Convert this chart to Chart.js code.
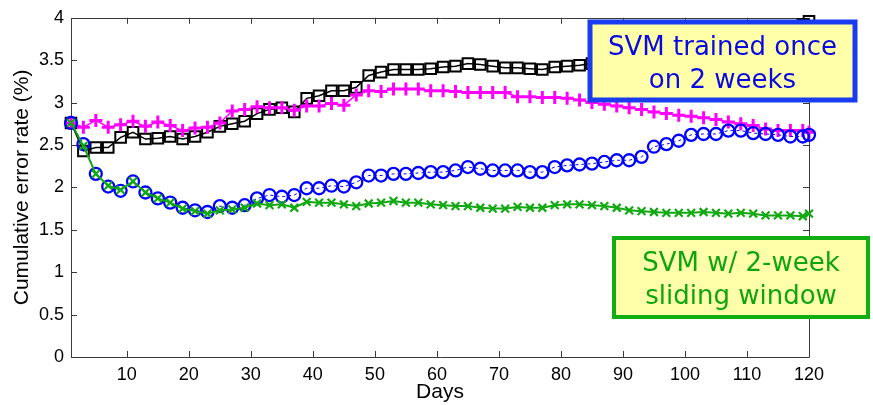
<!DOCTYPE html>
<html>
<head>
<meta charset="utf-8">
<script src="https://cdn.jsdelivr.net/npm/chart.js@4.4.0/dist/chart.umd.min.js"></script>
<style>
html, body { margin: 0; padding: 0; background: #fff; }
</style>
</head>
<body>
<canvas id="myChart" width="873" height="405"></canvas>
<script>
// days with a marker (every other day + last day)
const days = [1, 3, 5, 7, 9, 11, 13, 15, 17, 19, 21, 23, 25, 27, 29, 31, 33, 35, 37, 39,
    41, 43, 45, 47, 49, 51, 53, 55, 57, 59, 61, 63, 65, 67, 69, 71, 73, 75, 77, 79,
    81, 83, 85, 87, 89, 91, 93, 95, 97, 99, 101, 103, 105, 107, 109, 111, 113, 115, 117, 119, 120];

const blackSq = [2.76, 2.43, 2.47, 2.47, 2.59, 2.65, 2.57, 2.58, 2.60, 2.57, 2.60, 2.65, 2.72, 2.75, 2.78, 2.87, 2.92, 2.94, 2.89, 3.05,
    3.08, 3.14, 3.14, 3.18, 3.32, 3.36, 3.39, 3.39, 3.39, 3.40, 3.42, 3.43, 3.46, 3.45, 3.43, 3.41, 3.41, 3.40, 3.39, 3.42,
    3.43, 3.44, 3.46, 3.47, 3.49, 3.51, 3.53, 3.55, 3.57, 3.59, 3.61, 3.63, 3.65, 3.67, 3.69, 3.72, 3.75, 3.79, 3.84, 3.92, 3.96];

const magentaPlus = [2.76, 2.71, 2.79, 2.71, 2.74, 2.78, 2.72, 2.77, 2.73, 2.67, 2.70, 2.71, 2.76, 2.90, 2.92, 2.95, 2.94, 2.94, 2.91, 2.96,
    2.96, 2.99, 2.97, 3.09, 3.14, 3.13, 3.16, 3.16, 3.16, 3.14, 3.14, 3.13, 3.12, 3.12, 3.12, 3.12, 3.07, 3.07, 3.06, 3.06,
    3.05, 3.03, 3.00, 2.98, 2.96, 2.94, 2.92, 2.89, 2.87, 2.85, 2.84, 2.82, 2.80, 2.77, 2.75, 2.73, 2.69, 2.67, 2.67, 2.67, 2.65];

const blueCirc = [2.76, 2.51, 2.16, 2.01, 1.96, 2.07, 1.94, 1.87, 1.82, 1.76, 1.73, 1.71, 1.78, 1.76, 1.79, 1.87, 1.91, 1.89, 1.91, 1.99,
    1.99, 2.02, 2.01, 2.06, 2.14, 2.14, 2.16, 2.16, 2.17, 2.18, 2.18, 2.20, 2.24, 2.22, 2.20, 2.20, 2.20, 2.18, 2.18, 2.24,
    2.26, 2.27, 2.28, 2.30, 2.32, 2.32, 2.36, 2.48, 2.51, 2.55, 2.62, 2.63, 2.63, 2.67, 2.67, 2.64, 2.63, 2.62, 2.60, 2.60, 2.62];

const greenX = [2.76, 2.49, 2.16, 2.02, 1.97, 2.07, 1.94, 1.87, 1.82, 1.75, 1.72, 1.69, 1.73, 1.74, 1.76, 1.81, 1.79, 1.80, 1.76, 1.83,
    1.82, 1.82, 1.80, 1.78, 1.81, 1.82, 1.84, 1.82, 1.82, 1.80, 1.79, 1.78, 1.78, 1.76, 1.75, 1.75, 1.77, 1.76, 1.76, 1.79,
    1.80, 1.80, 1.79, 1.78, 1.76, 1.73, 1.72, 1.71, 1.70, 1.70, 1.70, 1.71, 1.70, 1.69, 1.70, 1.69, 1.67, 1.67, 1.67, 1.66, 1.69];

const xTicks = [10, 20, 30, 40, 50, 60, 70, 80, 90, 100, 110, 120];
const yTicks = [0, 0.5, 1, 1.5, 2, 2.5, 3, 3.5, 4];

const toPts = arr => days.map((d, i) => ({ x: d, y: arr[i] }));

Chart.defaults.font.family = '"Liberation Sans", Arial, sans-serif';
Chart.defaults.color = '#000';

// matlab style box + inward ticks
const frame = {
    id: 'frame',
    beforeDatasetsDraw(chart) {
        const { ctx, chartArea: a, scales: { x, y } } = chart;
        ctx.save();
        ctx.strokeStyle = '#3a3a3a';
        ctx.lineWidth = 1;
        ctx.beginPath();
        ctx.rect(Math.round(a.left) + 0.5, Math.round(a.top) + 0.5, Math.round(a.right - a.left), Math.round(a.bottom - a.top));
        xTicks.forEach(v => {
            const px = Math.round(x.getPixelForValue(v)) + 0.5;
            ctx.moveTo(px, a.bottom); ctx.lineTo(px, a.bottom - 6);
            ctx.moveTo(px, a.top); ctx.lineTo(px, a.top + 6);
        });
        yTicks.forEach(v => {
            const py = Math.round(y.getPixelForValue(v)) + 0.5;
            ctx.moveTo(a.left, py); ctx.lineTo(a.left + 6, py);
            ctx.moveTo(a.right, py); ctx.lineTo(a.right - 6, py);
        });
        ctx.stroke();
        ctx.restore();
    },
    afterDraw(chart) {
        const ctx = chart.ctx;
        const boxes = [
            { x: 590, y: 22, w: 265, h: 78, line: '#1a3cf0', lw: 5, txt: '#0a0ae0', lines: ['SVM trained once', 'on 2 weeks'] },
            { x: 614, y: 238, w: 254, h: 79, line: '#12ad12', lw: 4, txt: '#10a510', lines: ['SVM w/ 2-week', 'sliding window'] }
        ];
        ctx.save();
        boxes.forEach(b => {
            ctx.fillStyle = '#ffffaa';
            ctx.fillRect(b.x, b.y, b.w, b.h);
            ctx.strokeStyle = b.line;
            ctx.lineWidth = b.lw;
            ctx.strokeRect(b.x, b.y, b.w, b.h);
            ctx.fillStyle = b.txt;
            ctx.font = '26px "DejaVu Sans"';
            ctx.textAlign = 'center';
            ctx.textBaseline = 'alphabetic';
            const cx = b.x + b.w / 2;
            ctx.fillText(b.lines[0], cx, b.y + 33);
            ctx.fillText(b.lines[1], cx, b.y + 66);
        });
        ctx.restore();
    }
};

const ctx = document.getElementById('myChart').getContext('2d');
const chart = new Chart(ctx, {
    type: 'line',
    data: {
        datasets: [
            {
                label: 'sliding window',
                data: toPts(greenX),
                borderColor: '#12a812',
                borderWidth: 2,
                pointStyle: 'crossRot',
                pointRadius: 5.5,
                pointBorderWidth: 2.2,
                pointBorderColor: '#12a812',
                pointBackgroundColor: 'transparent',
                clip: false,
                order: 1
            },
            {
                label: 'blue',
                data: toPts(blueCirc),
                borderColor: '#0000ff',
                borderWidth: 1,
                borderDash: [3, 3],
                pointStyle: 'circle',
                pointRadius: 6,
                pointBorderWidth: 2.3,
                pointBorderColor: '#0000ff',
                pointBackgroundColor: 'transparent',
                clip: false,
                order: 2
            },
            {
                label: 'magenta',
                data: toPts(magentaPlus),
                borderColor: '#ff00ff',
                borderWidth: 1.5,
                pointStyle: 'cross',
                pointRadius: 6.5,
                pointBorderWidth: 3,
                pointBorderColor: '#ff00ff',
                pointBackgroundColor: 'transparent',
                clip: false,
                order: 3
            },
            {
                label: 'trained once',
                data: toPts(blackSq),
                borderColor: '#000',
                borderWidth: 1.5,
                pointStyle: 'rect',
                pointRadius: 7.5,
                pointBorderWidth: 2,
                pointBorderColor: '#000',
                pointBackgroundColor: 'transparent',
                clip: false,
                order: 4
            }
        ]
    },
    options: {
        responsive: false,
        animation: false,
        events: [],
        layout: { padding: { top: 17, right: 64, left: 0, bottom: 0 } },
        plugins: {
            legend: { display: false },
            tooltip: { enabled: false }
        },
        elements: { line: { tension: 0 } },
        scales: {
            x: {
                type: 'linear',
                min: 1,
                max: 120,
                afterBuildTicks: s => { s.ticks = xTicks.map(v => ({ value: v })); },
                afterFit: s => { s.height = 48; },
                grid: { display: false, drawTicks: false },
                border: { display: false },
                ticks: { font: { size: 18 }, padding: 7, maxRotation: 0, autoSkip: false },
                title: { display: true, text: 'Days', font: { size: 21 }, padding: 0 }
            },
            y: {
                min: 0,
                max: 4,
                afterBuildTicks: s => { s.ticks = yTicks.map(v => ({ value: v })); },
                afterFit: s => { s.width = 71; },
                grid: { display: false, drawTicks: false },
                border: { display: false },
                ticks: { font: { size: 18 }, padding: 7, callback: v => String(v) },
                title: { display: true, text: 'Cumulative error rate (%)', font: { size: 21 }, padding: { top: 10, bottom: 0 } }
            }
        }
    },
    plugins: [frame]
});
</script>
</body>
</html>
